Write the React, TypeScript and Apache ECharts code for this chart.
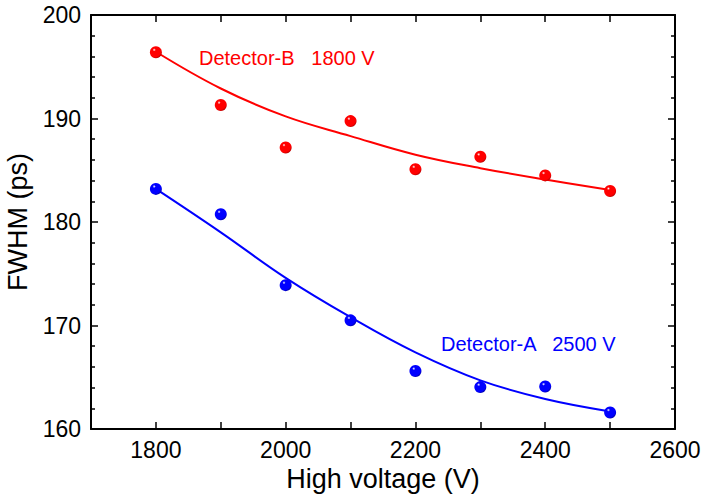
import React, { useEffect, useRef } from "react";
import * as echarts from "echarts";

const voltages = [1800, 1900, 2000, 2100, 2200, 2300, 2400, 2500];
const detectorB = [196.4, 191.3, 187.2, 189.75, 185.1, 186.3, 184.5, 183.0];
const detectorA = [183.2, 180.75, 173.9, 170.5, 165.6, 164.05, 164.1, 161.6];
const fitB = [196.45, 192.9, 190.2, 188.3, 186.5, 185.2, 184.1, 183.1];
const fitA = [183.2, 179.0, 174.6, 170.8, 167.4, 164.7, 162.9, 161.7];
const xLabels = [1800, 2000, 2200, 2400, 2600];
const annotationB = "Detector-B   1800 V";
const annotationA = "Detector-A   2500 V";

const FONT = "'Liberation Sans', Arial, Helvetica, sans-serif";

function ball(base: string, dark: string) {
  return new echarts.graphic.RadialGradient(0.36, 0.3, 0.75, [
    { offset: 0, color: "#ffffff" },
    { offset: 0.18, color: base },
    { offset: 0.78, color: base },
    { offset: 1, color: dark },
  ]);
}

export default function App() {
  const ref = useRef<HTMLDivElement>(null);
  useEffect(() => {
    if (!ref.current) return;
    const chart = echarts.init(ref.current, null, { renderer: "svg" });
    const axisLine = { show: true, lineStyle: { color: "#000", width: 2 } };
    const xCommon = {
      type: "value" as const,
      min: 1700,
      max: 2600,
      interval: 100,
      axisLine,
      splitLine: { show: false },
      axisTick: { show: true, inside: true, length: 7, lineStyle: { color: "#000", width: 1.5 } },
    };
    const yCommon = {
      type: "value" as const,
      min: 160,
      max: 200,
      interval: 10,
      axisLine,
      splitLine: { show: false },
      axisTick: { show: true, inside: true, length: 7, lineStyle: { color: "#000", width: 1.5 } },
      minorTick: { show: true, splitNumber: 5, length: 4, lineStyle: { color: "#000", width: 1.5 } },
      minorSplitLine: { show: false },
    };
    chart.setOption({
      animation: false,
      backgroundColor: "#fff",
      grid: { left: 91, right: 29, top: 15, bottom: 68, containLabel: false, outerBoundsMode: "none" },
      xAxis: [
        {
          ...xCommon,
          position: "bottom",
          name: "High voltage (V)",
          nameLocation: "middle",
          nameGap: 33,
          nameTextStyle: { fontFamily: FONT, fontSize: 27, color: "#000" },
          axisLabel: {
            show: true,
            margin: 9,
            fontFamily: FONT,
            fontSize: 23,
            color: "#000",
            showMinLabel: true,
            showMaxLabel: true,
            formatter: (v: number) => (xLabels.includes(v) ? String(v) : ""),
          },
        },
        { ...xCommon, position: "top", axisLabel: { show: false } },
      ],
      yAxis: [
        {
          ...yCommon,
          position: "left",
          name: "FWHM (ps)",
          nameLocation: "middle",
          nameGap: 52,
          nameTextStyle: { fontFamily: FONT, fontSize: 27, color: "#000" },
          axisLabel: { show: true, margin: 10, fontFamily: FONT, fontSize: 23, color: "#000" },
        },
        { ...yCommon, position: "right", axisLabel: { show: false } },
      ],
      series: [
        {
          type: "line",
          name: "Fit B",
          data: voltages.map((v, i) => [v, fitB[i]]),
          smooth: 0.4,
          showSymbol: false,
          lineStyle: { color: "#ff0000", width: 2 },
          z: 2,
        },
        {
          type: "line",
          name: "Fit A",
          data: voltages.map((v, i) => [v, fitA[i]]),
          smooth: 0.4,
          showSymbol: false,
          lineStyle: { color: "#0000ff", width: 2 },
          z: 2,
        },
        {
          type: "scatter",
          name: "Detector-B",
          data: voltages.map((v, i) => [v, detectorB[i]]),
          symbol: "circle",
          symbolSize: 12,
          itemStyle: { color: ball("#ff0000", "#b00000"), opacity: 1 },
          z: 3,
        },
        {
          type: "scatter",
          name: "Detector-A",
          data: voltages.map((v, i) => [v, detectorA[i]]),
          symbol: "circle",
          symbolSize: 12,
          itemStyle: { color: ball("#0000ff", "#0000a0"), opacity: 1 },
          z: 3,
        },
      ],
      graphic: [
        {
          type: "text",
          x: 199,
          y: 58,
          style: { text: annotationB, fill: "#ff0000", font: `20px ${FONT}`, verticalAlign: "middle", align: "left" },
        },
        {
          type: "text",
          x: 441,
          y: 344,
          style: { text: annotationA, fill: "#0000ff", font: `20px ${FONT}`, verticalAlign: "middle", align: "left" },
        },
      ],
    });
    return () => chart.dispose();
  }, []);
  return (
    <div
      ref={ref}
      style={{ position: "fixed", left: 0, top: 0, width: 704, height: 497, background: "#fff" }}
    />
  );
}
